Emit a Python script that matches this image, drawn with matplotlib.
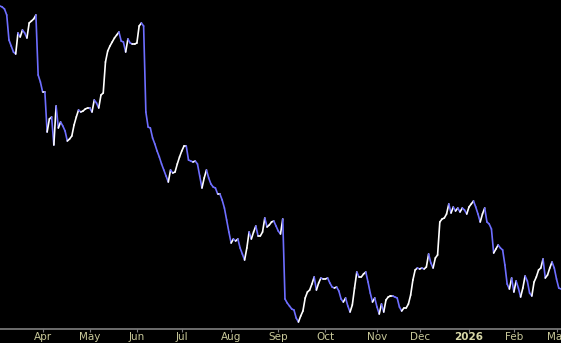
import numpy as np
import pandas as pd
import matplotlib
matplotlib.use('Agg')
import matplotlib.pyplot as plt
from matplotlib.collections import LineCollection

# US market holidays inside the window (trading-day x axis, no gaps)
holidays = ['2025-04-18', '2025-05-26', '2025-06-19', '2025-07-04', '2025-09-01',
            '2025-11-27', '2025-12-25', '2026-01-01', '2026-01-19', '2026-02-16']

# daily closes
closes = [
    52.3, 52.2, 52.0, 51.4, 48.9, 48.3, 47.7, 47.5, 49.6, 49.2,
    49.9, 49.6, 49.1, 50.6, 50.8, 51.0, 51.4, 45.4, 44.7, 43.7,
    43.7, 39.7, 41.0, 41.2, 38.4, 42.3, 40.1, 40.7, 40.3, 39.8,
    38.8, 39.0, 39.3, 40.4, 41.2, 41.9, 41.7, 41.8, 42.0, 42.1,
    42.1, 41.7, 42.9, 42.6, 42.1, 43.4, 43.6, 46.7, 47.8, 48.3,
    48.7, 49.1, 49.4, 49.7, 48.8, 48.7, 47.7, 49.0, 48.6, 48.5,
    48.5, 48.6, 50.3, 50.6, 50.3, 41.7, 40.2, 40.1, 39.1, 38.5,
    37.8, 37.2, 36.5, 35.9, 35.3, 34.7, 35.9, 35.6, 35.7, 36.5,
    37.2, 37.8, 38.3, 38.3, 36.9, 36.8, 36.7, 36.8, 36.5, 35.3,
    34.1, 35.1, 35.9, 35.1, 34.5, 34.2, 34.1, 33.5, 33.5, 32.9,
    32.1, 30.9, 29.7, 28.6, 29.0, 28.8, 29.0, 28.1, 27.5, 26.9,
    28.1, 29.7, 29.0, 29.7, 30.3, 29.3, 29.3, 29.7, 31.1, 30.2,
    30.4, 30.7, 30.8, 30.3, 29.8, 29.5, 31.0, 23.0, 22.6, 22.3,
    22.0, 21.9, 21.1, 20.7, 21.3, 21.8, 23.1, 23.7, 23.9, 24.5,
    25.2, 23.9, 24.6, 25.1, 25.0, 25.0, 25.1, 24.6, 24.2, 24.1,
    24.2, 23.8, 23.0, 22.7, 23.1, 22.3, 21.7, 22.4, 24.1, 25.7,
    25.2, 25.2, 25.5, 25.7, 24.7, 23.6, 22.7, 23.1, 22.2, 21.5,
    22.5, 21.7, 22.9, 23.2, 23.3, 23.3, 23.2, 23.1, 22.2, 21.8,
    22.1, 22.1, 22.5, 23.4, 24.9, 25.9, 26.1, 26.0, 26.1, 26.0,
    26.2, 27.5, 26.6, 26.1, 27.1, 27.4, 30.7, 31.0, 31.1, 31.5,
    32.5, 31.6, 32.2, 31.8, 32.1, 31.7, 32.1, 31.9, 31.5, 32.2,
    32.5, 32.8, 32.2, 31.5, 30.7, 31.5, 32.1, 30.7, 30.5, 30.0,
    27.6, 28.0, 28.4, 28.1, 27.9, 26.4, 24.5, 24.0, 25.1, 23.7,
    24.8, 24.1, 23.2, 24.1, 25.3, 24.8, 23.6, 23.3, 24.7, 25.2,
    25.9, 26.1, 27.0, 25.1, 25.4, 26.1, 26.7, 26.1, 25.0, 24.1,
    24.0,
]

bday = pd.offsets.CustomBusinessDay(holidays=holidays)
dates = pd.date_range('2025-03-05', periods=len(closes), freq=bday)

up_color = '#ffffff'
down_color = '#6e6eff'

fig = plt.figure(figsize=(5.61, 3.43), dpi=100, facecolor='black')
ax = fig.add_axes([0, 14 / 343, 1, 329 / 343], facecolor='black')

x = np.arange(len(closes))
y = np.array(closes)
pts = np.column_stack([x, y]).reshape(-1, 1, 2)
segs = np.concatenate([pts[:-1], pts[1:]], axis=1)
cols = [up_color if d >= 0 else down_color for d in np.diff(y)]
lc = LineCollection(segs, colors=cols, linewidths=1.2, capstyle='round', joinstyle='round')
ax.add_collection(lc)

ax.set_xlim(0, len(closes) - 1)
ax.set_ylim(20, 52.9)

# month ticks at first trading day of each month
s = pd.Series(x, index=dates)
firsts = s.groupby([dates.year, dates.month]).first()
tick_pos, tick_lab = [], []
for (yr, mo), pos in firsts.items():
    if pos == 0:
        continue
    tick_pos.append(pos)
    tick_lab.append(str(yr) if mo == 1 else pd.Timestamp(yr, mo, 1).strftime('%b'))

ax.set_xticks(tick_pos)
ax.set_xticklabels(tick_lab)
ax.set_yticks([])
for side in ['top', 'left', 'right']:
    ax.spines[side].set_visible(False)
ax.spines['bottom'].set_color('#808080')
ax.spines['bottom'].set_linewidth(1.2)
ax.tick_params(axis='x', colors='#808080', length=2, width=0.8, pad=0.5,
               labelsize=7.5, labelcolor='#c8c89a')
for lab in ax.get_xticklabels():
    if lab.get_text().isdigit():
        lab.set_fontweight('bold')
        lab.set_color('#d8d8a8')

fig.savefig('out.png', dpi=100, facecolor='black')
